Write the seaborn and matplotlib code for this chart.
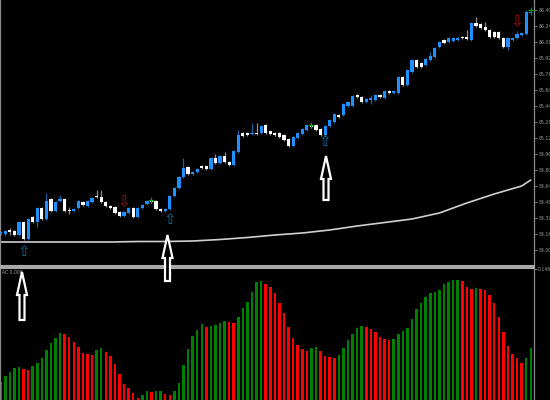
import numpy as np
import matplotlib
matplotlib.use('Agg')
import matplotlib.pyplot as plt
from matplotlib.patches import FancyArrow
import seaborn as sns

sns.set_style('dark', {'axes.facecolor': 'black', 'figure.facecolor': 'black'})

# ---- price candles (bar index = position in list)
opens = [84.16, 84.16, 84.20, 84.19, 84.15, 84.28, 84.11, 84.33, 84.28, 84.42,
         84.31, 84.51, 84.39, 84.49, 84.51, 84.40, 84.39, 84.42, 84.48, 84.44,
         84.48, 84.54, 84.53, 84.48, 84.44, 84.43, 84.38, 84.34, 84.37, 84.42,
         84.33, 84.42, 84.46, 84.49, 84.49, 84.41, 84.39, 84.41, 84.54, 84.62,
         84.73, 84.83, 84.76, 84.78, 84.84, 84.84, 84.81, 84.92, 84.87, 84.94,
         84.88, 84.85, 84.98, 85.17, 85.17, 85.16, 85.17, 85.17, 85.25, 85.19,
         85.17, 85.17, 85.15, 85.11, 85.04, 85.12, 85.16, 85.20, 85.24, 85.25,
         85.21, 85.15, 85.24, 85.28, 85.35, 85.35, 85.44, 85.44, 85.55, 85.53,
         85.48, 85.50, 85.50, 85.55, 85.52, 85.59, 85.57, 85.57, 85.73, 85.65,
         85.78, 85.90, 85.87, 85.85, 85.90, 85.93, 86.03, 86.10, 86.08, 86.09,
         86.10, 86.13, 86.13, 86.10, 86.27, 86.26, 86.23, 86.20, 86.18, 86.18,
         86.12, 86.03, 86.10, 86.12, 86.15, 86.16, 86.37]
closes = [84.18, 84.19, 84.18, 84.15, 84.28, 84.11, 84.31, 84.28, 84.42, 84.31,
          84.49, 84.39, 84.48, 84.51, 84.39, 84.39, 84.41, 84.49, 84.45, 84.49,
          84.52, 84.53, 84.48, 84.44, 84.42, 84.37, 84.34, 84.38, 84.42, 84.33,
          84.42, 84.45, 84.49, 84.48, 84.41, 84.39, 84.41, 84.54, 84.62, 84.73,
          84.82, 84.76, 84.78, 84.81, 84.82, 84.81, 84.92, 84.87, 84.94, 84.88,
          84.85, 84.99, 85.15, 85.14, 85.15, 85.17, 85.16, 85.24, 85.17, 85.16,
          85.15, 85.13, 85.10, 85.04, 85.13, 85.17, 85.21, 85.25, 85.23, 85.20,
          85.15, 85.24, 85.30, 85.36, 85.33, 85.46, 85.48, 85.54, 85.53, 85.48,
          85.51, 85.52, 85.55, 85.53, 85.59, 85.57, 85.59, 85.73, 85.65, 85.80,
          85.90, 85.83, 85.83, 85.91, 85.94, 86.02, 86.08, 86.07, 86.12, 86.12,
          86.12, 86.12, 86.11, 86.27, 86.24, 86.22, 86.20, 86.13, 86.13, 86.12,
          86.03, 86.12, 86.12, 86.16, 86.17, 86.38, 86.38]
highs = [84.19, 84.20, 84.22, 84.20, 84.29, 84.29, 84.32, 84.34, 84.43, 84.43,
         84.57, 84.52, 84.49, 84.55, 84.52, 84.43, 84.42, 84.50, 84.49, 84.50,
         84.53, 84.60, 84.60, 84.49, 84.45, 84.44, 84.39, 84.39, 84.43, 84.43,
         84.43, 84.46, 84.50, 84.51, 84.50, 84.42, 84.42, 84.55, 84.63, 84.74,
         84.92, 84.84, 84.79, 84.82, 84.85, 84.85, 84.93, 84.96, 84.95, 84.98,
         84.89, 85.00, 85.20, 85.18, 85.18, 85.27, 85.27, 85.25, 85.26, 85.20,
         85.18, 85.18, 85.16, 85.12, 85.14, 85.18, 85.22, 85.26, 85.26, 85.26,
         85.22, 85.25, 85.31, 85.37, 85.36, 85.47, 85.49, 85.55, 85.56, 85.54,
         85.52, 85.55, 85.56, 85.56, 85.60, 85.60, 85.60, 85.74, 85.74, 85.81,
         85.91, 85.91, 85.88, 85.92, 85.98, 86.03, 86.09, 86.11, 86.13, 86.13,
         86.13, 86.14, 86.20, 86.28, 86.33, 86.27, 86.28, 86.21, 86.19, 86.19,
         86.13, 86.13, 86.13, 86.19, 86.18, 86.40, 86.42]
lows = [84.15, 84.14, 84.15, 84.14, 84.14, 84.10, 84.10, 84.27, 84.23, 84.30,
        84.30, 84.38, 84.38, 84.48, 84.38, 84.36, 84.38, 84.41, 84.44, 84.43,
        84.47, 84.52, 84.47, 84.43, 84.41, 84.36, 84.33, 84.33, 84.36, 84.32,
        84.32, 84.41, 84.45, 84.47, 84.40, 84.38, 84.38, 84.40, 84.53, 84.61,
        84.72, 84.75, 84.75, 84.77, 84.81, 84.80, 84.80, 84.86, 84.86, 84.87,
        84.84, 84.84, 84.97, 85.13, 85.14, 85.15, 85.15, 85.16, 85.16, 85.15,
        85.14, 85.12, 85.09, 85.03, 85.03, 85.11, 85.15, 85.19, 85.22, 85.19,
        85.14, 85.13, 85.23, 85.27, 85.32, 85.34, 85.43, 85.43, 85.52, 85.47,
        85.47, 85.46, 85.49, 85.52, 85.51, 85.56, 85.56, 85.56, 85.64, 85.64,
        85.77, 85.82, 85.82, 85.84, 85.89, 85.92, 86.02, 86.06, 86.07, 86.08,
        86.09, 86.11, 86.10, 86.09, 86.23, 86.21, 86.19, 86.12, 86.12, 86.11,
        86.02, 86.00, 86.09, 86.11, 86.14, 86.15, 86.35]

# slow moving average, read at some bars
ma_idx = [0, 6, 12, 18, 24, 30, 36, 42, 48, 54, 60, 66, 72, 78, 84, 90, 96, 102, 108, 114, 116]
ma_val = [84.08, 84.08, 84.08, 84.08, 84.08, 84.085, 84.085, 84.09, 84.105, 84.125, 84.15,
          84.17, 84.20, 84.24, 84.275, 84.31, 84.37, 84.47, 84.56, 84.64, 84.70]

# signals
buy_idx = [5, 37, 71]
buy_price = [83.98, 84.30, 85.08]
sell_idx = [27, 113]
sell_price = [84.48, 86.28]
mark_idx = [33, 68, 116]
mark_price = [84.50, 85.25, 86.40]

price_ticks = [84.00, 84.16, 84.32, 84.48, 84.64, 84.80, 84.96, 85.12,
               85.28, 85.44, 85.60, 85.76, 85.92, 86.08, 86.24, 86.40]

# accelerator oscillator histogram
ac = [18, 24, 28, 32, 33, 31, 30, 34, 37, 42, 50, 57, 62, 67, 66, 63, 58, 53, 47, 46,
      45, 50, 52, 48, 44, 36, 26, 16, 12, 7,
      2, 5, 9, 8.5, 9, 9.5, 6, 5, 9, 17, 35, 51, 64, 70, 76, 73, 74, 75, 77, 79,
      78, 77, 83, 92, 98, 108, 118, 119, 116, 113,
      107, 97, 87, 73, 62, 55, 51, 49, 52, 53, 49, 44, 43, 42, 45, 52, 60, 66, 72, 74,
      73, 71, 68, 63, 61, 60.5, 61, 66, 69, 72,
      81, 91, 97, 103, 107, 108, 110, 116, 118, 120, 120.5, 119, 113, 111, 112, 111.5,
      110, 105, 97, 83, 68, 54, 46, 42, 37, 42, 52]

n = len(closes)
idx = np.arange(n)
o = np.array(opens)
c = np.array(closes)
bull = c >= o

fig = plt.figure(figsize=(5.5, 4), dpi=100, facecolor='black')
ax = fig.add_axes([0, 0.335, 534 / 550, 0.665])
ax2 = fig.add_axes([0, 0, 534 / 550, 0.33])

# candles
body_col = np.where(bull, '#1e90ff', '#ffffff')
wick_col = np.where(bull, '#1f5f99', '#8c8c8c')
ax.vlines(idx, lows, highs, colors=wick_col, lw=0.9, zorder=2)
ax.bar(idx, np.maximum(np.abs(c - o), 0.01), bottom=np.minimum(o, c), width=0.7,
       color=body_col, lw=0, zorder=3)
sns.lineplot(x=ma_idx, y=ma_val, color='#d0d0d0', lw=1.2, ax=ax, zorder=2)

for i, p in zip(buy_idx, buy_price):
    ax.text(i, p, '\u21e7', ha='center', va='center', color='#1b6a9a', fontsize=11, zorder=4)
for i, p in zip(sell_idx, sell_price):
    ax.text(i, p, '\u21e9', ha='center', va='center', color='#a81010', fontsize=11, zorder=4)
ax.scatter(mark_idx, mark_price, marker='+', s=14, color='#00a000', lw=0.8, zorder=4)

ax.set_xlim(-0.15, 116.7)
ax.set_ylim(83.84, 86.50)
ax.set_xticks([])
ax.yaxis.tick_right()
ax.set_yticks(price_ticks)
ax.set_yticklabels([f'{t:.2f}' for t in price_ticks])
ax.tick_params(axis='y', colors='#9a9a9a', labelsize=3.3, length=2, width=0.5, pad=1)
ax.set_xlabel('')
ax.set_ylabel('')

# oscillator
direction = ['up'] + ['up' if ac[k] >= ac[k - 1] else 'down' for k in range(1, n)]
sns.barplot(x=idx, y=ac, hue=direction, palette={'up': '#008000', 'down': '#ff0000'},
            dodge=False, width=0.55, saturation=1, errorbar=None, legend=False,
            edgecolor='none', linewidth=0, ax=ax2)
ax2.set_xlim(-0.15, 116.7)
ax2.set_ylim(0, 132)
ax2.set_xticks([])
ax2.yaxis.tick_right()
ax2.set_yticks([131])
ax2.set_yticklabels(['0.146'])
ax2.tick_params(axis='y', colors='#9a9a9a', labelsize=3.3, length=2, width=0.5, pad=1)
ax2.set_xlabel('')
ax2.set_ylabel('')
ax2.text(0.004, 0.985, 'AC 0.008', transform=ax2.transAxes, fontsize=3.3,
         color='#9a9a9a', va='top', ha='left')

for a in (ax, ax2):
    a.set_facecolor('black')
    for s in a.spines.values():
        s.set_visible(True)
        s.set_color('#8a8a8a')
        s.set_linewidth(0.9)
ax.spines['top'].set_visible(False)
ax2.spines['bottom'].set_visible(False)
ax.spines['bottom'].set_color('#a8a8a8')
ax.spines['bottom'].set_linewidth(1.5)
ax2.spines['top'].set_color('#a8a8a8')
ax2.spines['top'].set_linewidth(1.5)

# hand-drawn white pointer arrows on the screenshot (pixel overlay)
ov = fig.add_axes([0, 0, 1, 1])
ov.set_xlim(0, 550)
ov.set_ylim(400, 0)
ov.axis('off')
ov.patch.set_alpha(0)
for x, tail, tip in [(22, 320, 272), (167.5, 281, 235), (326, 200, 156)]:
    ov.add_patch(FancyArrow(x, tail, 0, tip - tail, width=5, head_width=10, head_length=23,
                            length_includes_head=True, fc='black', ec='white', lw=1.6))

fig.savefig('out.png', dpi=100, facecolor='black')
